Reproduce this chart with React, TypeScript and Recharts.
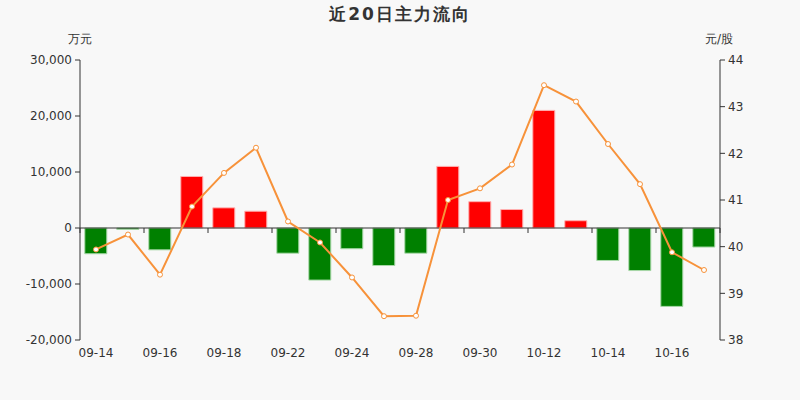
import React from "react"
import {
  ComposedChart,
  Bar,
  Line,
  XAxis,
  YAxis,
  Cell,
  ReferenceLine,
} from "recharts"

const dates = [
  "09-14", "09-15", "09-16", "09-17", "09-18", "09-21", "09-22", "09-23", "09-24", "09-25",
  "09-28", "09-29", "09-30", "10-09", "10-12", "10-13", "10-14", "10-15", "10-16", "10-19",
]

// main force net flow, 万元
const flows = [
  -4600, -250, -3900, 9200, 3600, 3000, -4500, -9300, -3700, -6700,
  -4500, 11000, 4700, 3300, 21000, 1300, -5800, -7600, -14000, -3400,
]

// closing price, 元/股
const prices = [
  39.94, 40.26, 39.4, 40.86, 41.58, 42.12, 40.54, 40.09, 39.34, 38.51,
  38.52, 41.0, 41.25, 41.76, 43.46, 43.11, 42.2, 41.34, 39.88, 39.5,
]

const flowTicks = [-20000, -10000, 0, 10000, 20000, 30000]
const priceTicks = [38, 39, 40, 41, 42, 43, 44]

const FONT = "'DejaVu Sans', sans-serif"
const AXIS = "#333"
const LINE = "#f7923a"

const chartData = dates.map((date, i) => ({
  date,
  flow: flows[i],
  price: prices[i],
}))

// date label only, tick marks are drawn on the zero line
function DateTick({ x, y, payload }: any) {
  return (
    <text
      x={x}
      y={y}
      dy={9}
      textAnchor="middle"
      fontSize={12}
      fill={AXIS}
      fontFamily={FONT}
    >
      {payload.value}
    </text>
  )
}

// zero line acts as the category axis, ticks every two days
function ZeroAxis({ x1, y1, x2 }: any) {
  const step = (x2 - x1) / dates.length
  const marks = []
  for (let k = 0; k <= dates.length; k += 2) {
    const x = x1 + k * step
    marks.push(<line key={k} x1={x} y1={y1} x2={x} y2={y1 + 5} stroke={AXIS} strokeWidth={1} />)
  }
  return (
    <g>
      <line x1={x1} y1={y1} x2={x2} y2={y1} stroke={AXIS} strokeWidth={1} />
      {marks}
    </g>
  )
}

export default function App() {
  return (
    <div
      style={{
        position: "absolute",
        left: 0,
        top: 0,
        width: 800,
        height: 400,
        background: "#f8f8f8",
        fontFamily: FONT,
      }}
    >
      <div
        style={{
          position: "absolute",
          top: 3,
          width: 800,
          textAlign: "center",
          fontSize: 17,
          fontWeight: "bold",
          color: "#333",
          letterSpacing: 2,
        }}
      >
        近20日主力流向
      </div>
      <div style={{ position: "absolute", left: 68, top: 31, fontSize: 12, color: "#333" }}>
        万元
      </div>
      <div style={{ position: "absolute", left: 705, top: 31, fontSize: 12, color: "#333" }}>
        元/股
      </div>
      <ComposedChart
        width={800}
        height={400}
        data={chartData}
        margin={{ top: 60, right: 0, bottom: 30, left: 0 }}
        barCategoryGap="15%"
      >
        <XAxis
          dataKey="date"
          interval={1}
          axisLine={false}
          tickLine={false}
          height={30}
          tick={<DateTick />}
        />
        <YAxis
          yAxisId="flow"
          orientation="left"
          width={80}
          domain={[-20000, 30000]}
          ticks={flowTicks}
          tickFormatter={(v) => v.toLocaleString("en-US")}
          axisLine={{ stroke: AXIS }}
          tickLine={{ stroke: AXIS }}
          tickSize={5}
          tickMargin={3}
          tick={{ fontSize: 12, fill: AXIS, fontFamily: FONT }}
        />
        <YAxis
          yAxisId="price"
          orientation="right"
          width={80}
          domain={[38, 44]}
          ticks={priceTicks}
          axisLine={{ stroke: AXIS }}
          tickLine={{ stroke: AXIS }}
          tickSize={5}
          tickMargin={3}
          tick={{ fontSize: 12, fill: AXIS, fontFamily: FONT }}
        />
        <Bar yAxisId="flow" dataKey="flow" isAnimationActive={false} strokeWidth={1}>
          {flows.map((v, i) => (
            <Cell
              key={i}
              fill={v >= 0 ? "#ff0000" : "#008000"}
              stroke={v >= 0 ? "#ffb0b0" : "#a8d8a8"}
            />
          ))}
        </Bar>
        <ReferenceLine yAxisId="flow" y={0} shape={<ZeroAxis />} />
        <Line
          yAxisId="price"
          dataKey="price"
          type="linear"
          stroke={LINE}
          strokeWidth={2}
          dot={{ r: 2.5, fill: "#fff", stroke: LINE, strokeWidth: 1 }}
          isAnimationActive={false}
        />
      </ComposedChart>
    </div>
  )
}
